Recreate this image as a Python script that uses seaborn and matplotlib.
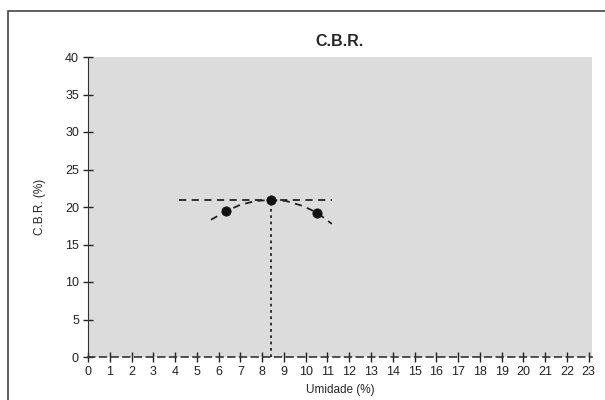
import matplotlib
matplotlib.use("Agg")
import matplotlib.pyplot as plt
import seaborn as sns
import pandas as pd
from matplotlib.patches import Rectangle

# ensaios (pontos medidos)
umidade = [6.35, 8.4, 10.5]
cbr = [19.5, 20.9, 19.2]

# curva ajustada
curva_x = [5.65, 6.35, 7.0, 7.7, 8.4, 9.1, 9.8, 10.5, 11.2]
curva_y = [18.3, 19.45, 20.3, 20.8, 20.95, 20.8, 20.2, 19.3, 17.75]

# linhas de referencia
cbr_max = 21.0
umid_otima = 8.4
linha_h_x = [4.2, 11.2]

x_ticks = list(range(0, 24))
y_ticks = list(range(0, 41, 5))

sns.set_style("white", {'xtick.bottom': True, 'ytick.left': True})
plt.rcParams['font.family'] = ['Liberation Sans', 'DejaVu Sans']

fig = plt.figure(figsize=(6.05, 4), dpi=100)
ax = fig.add_axes([88 / 605, 43 / 400, (592 - 88) / 605, 300 / 400])
ax.set_facecolor('#dcdcdc')

df_curva = pd.DataFrame({'x': curva_x, 'y': curva_y})
df_pts = pd.DataFrame({'x': umidade, 'y': cbr})

sns.lineplot(data=df_curva, x='x', y='y', ax=ax, color='#222222',
             linestyle=(0, (4, 3)), linewidth=1.3, sort=False)
ax.plot(linha_h_x, [cbr_max, cbr_max], color='#222222',
        linestyle=(0, (4, 3)), linewidth=1.3)
ax.plot([umid_otima, umid_otima], [0, cbr_max], color='#222222',
        linestyle=(0, (1.5, 2)), linewidth=1.3)
sns.scatterplot(data=df_pts, x='x', y='y', ax=ax, color='#111111',
                s=45, edgecolor='#111111', zorder=5)

ax.set_xlim(0, 23.15)
ax.set_ylim(0, 40)
ax.set_xticks(x_ticks)
ax.set_yticks(y_ticks)
ax.tick_params(axis='both', direction='inout', length=7, width=1,
               labelsize=9, colors='#222222', pad=3,
               bottom=True, left=True)

for s in ['top', 'right']:
    ax.spines[s].set_visible(False)
ax.spines['left'].set_color('#333333')
ax.spines['bottom'].set_color('#333333')
ax.spines['bottom'].set_linestyle((0, (4, 3)))
ax.spines['bottom'].set_linewidth(1.2)

ax.set_title('C.B.R.', fontsize=11.5, fontweight='bold', pad=8)
ax.set_xlabel('Umidade (%)', fontsize=8.5, labelpad=4)
ax.set_ylabel('C.B.R. (%)', fontsize=8.5, labelpad=14)

# moldura do grafico
fig.patches.append(Rectangle((8 / 605, -0.05), 1.0, 1.05 - 11 / 400,
                             transform=fig.transFigure, fill=False,
                             edgecolor='#444444', linewidth=1.2))

fig.savefig('out.png', dpi=100)
